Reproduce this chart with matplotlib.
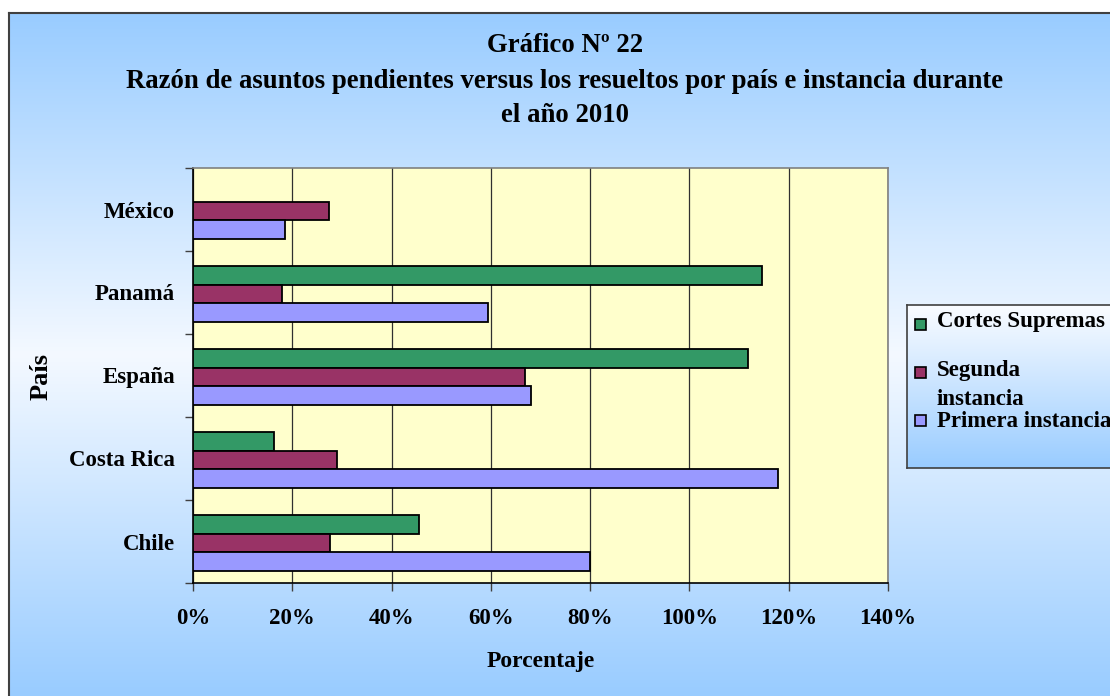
import numpy as np
import matplotlib
matplotlib.use("Agg")
import matplotlib.pyplot as plt
from matplotlib.patches import Rectangle
from matplotlib.colors import LinearSegmentedColormap

# ---- data ----
countries = ["Chile", "Costa Rica", "España", "Panamá", "México"]
series_names = ["Cortes Supremas", "Segunda instancia", "Primera instancia"]
legend_labels = ["Cortes Supremas", "Segunda\ninstancia", "Primera instancia"]
cortes_supremas = [45.6, 16.4, 111.7, 114.7, np.nan]
segunda_instancia = [27.6, 29.1, 66.8, 17.9, 27.3]
primera_instancia = [80.0, 117.8, 68.0, 59.4, 18.6]
x_ticks = [0, 20, 40, 60, 80, 100, 120, 140]
x_tick_labels = ["0%", "20%", "40%", "60%", "80%", "100%", "120%", "140%"]
title_lines = ["Gráfico Nº 22",
               "Razón de asuntos pendientes versus los resueltos por país e instancia durante",
               "el año 2010"]
colors = ["#339966", "#993366", "#9999FF"]

W, H = 1110, 696
plt.rcParams['font.family'] = ['Liberation Serif', 'DejaVu Serif']
plt.rcParams['font.weight'] = 'bold'

fig = plt.figure(figsize=(W / 100, H / 100), dpi=100)
fig.patch.set_facecolor("white")

def fx(px):
    return px / W

def fy(py):
    return 1 - py / H

# ---- chart area background gradient ----
bg = fig.add_axes([fx(9), 0, 1 - fx(9), fy(13)])
cmap = LinearSegmentedColormap.from_list(
    "bg", [(0.0, "#99CCFF"), (0.5, "#F4F9FF"), (1.0, "#99CCFF")])
grad = np.linspace(0, 1, 256).reshape(-1, 1)
bg.imshow(grad, aspect="auto", cmap=cmap, extent=[0, 1, 0, 1], origin="upper")
bg.set_xlim(0, 1)
bg.set_ylim(0, 1)
bg.axis("off")
fig.add_artist(plt.Line2D([fx(9), fx(9)], [0, fy(13)], color="#404040", lw=1.5))
fig.add_artist(plt.Line2D([fx(9), 1], [fy(13), fy(13)], color="#404040", lw=1.5))

# ---- plot area ----
ax = fig.add_axes([fx(193), fy(583), fx(888) - fx(193), fy(168) - fy(583)])
ax.set_facecolor("#FFFFCC")
y = np.arange(len(countries))
h = 0.223
data = [cortes_supremas, segunda_instancia, primera_instancia]
offsets = [h, 0, -h]
for vals, off, col, name in zip(data, offsets, colors, series_names):
    ax.barh(y + off - 0.02, vals, height=h, color=col, edgecolor="black",
            linewidth=1.3, label=name, zorder=3)

ax.set_xlim(0, 140)
ax.set_ylim(-0.5, len(countries) - 0.5)
ax.set_xticks(x_ticks)
ax.set_xticklabels(x_tick_labels, fontsize=16.5, fontweight="bold")
ax.set_yticks(y)
ax.set_yticklabels(countries, fontsize=16.5, fontweight="bold")
ax.set_yticks(np.arange(-0.5, len(countries), 1.0), minor=True)
ax.tick_params(axis="y", which="major", length=0, pad=13)
ax.tick_params(axis="y", which="minor", length=6, direction="out", width=1, color="#404040")
ax.tick_params(axis="x", which="major", length=6, direction="out", width=1, pad=12, color="#404040")
ax.xaxis.grid(True, color="#303030", lw=0.9, zorder=1)
ax.set_axisbelow(True)
ax.spines["left"].set_color("black")
ax.spines["bottom"].set_color("black")
ax.spines["top"].set_color("#808080")
ax.spines["right"].set_color("#808080")
for s in ax.spines.values():
    s.set_linewidth(1.2)

# axis labels
fig.text(fx(541), fy(661), "Porcentaje", ha="center", va="center",
         fontsize=17, fontweight="bold")
fig.text(fx(41), fy(377), "País", ha="center", va="center", rotation=90,
         fontsize=19, fontweight="bold")

# title
for line, ypx in zip(title_lines, [46, 81, 115]):
    fig.text(fx(565), fy(ypx), line, ha="center", va="center",
             fontsize=19.3, fontweight="bold")

# ---- legend ----
lg = fig.add_axes([fx(907), fy(468), 1 - fx(907), fy(305) - fy(468)])
lcmap = LinearSegmentedColormap.from_list("lg", [(0.0, "#FAFCFF"), (1.0, "#99CCFF")])
lg.imshow(grad, aspect="auto", cmap=lcmap, extent=[0, 1, 0, 1], origin="upper")
lg.set_xlim(0, 1)
lg.set_ylim(0, 1)
lg.set_xticks([])
lg.set_yticks([])
for side in ["left", "top", "bottom"]:
    lg.spines[side].set_color("#404040")
    lg.spines[side].set_linewidth(1.2)
lg.spines["right"].set_visible(False)

marker_y = [324, 372, 420.5]
text_y = [322, 385, 421]
for col, lab, my, ty in zip(colors, legend_labels, marker_y, text_y):
    fig.add_artist(Rectangle((fx(914.5), fy(my + 5.5)), fx(11), fy(my - 5.5) - fy(my + 5.5),
                             facecolor=col, edgecolor="black", lw=1.2,
                             transform=fig.transFigure))
    fig.text(fx(937), fy(ty), lab, ha="left", va="center", fontsize=16.5,
             fontweight="bold", linespacing=1.45)

fig.savefig("out.png", dpi=100)
